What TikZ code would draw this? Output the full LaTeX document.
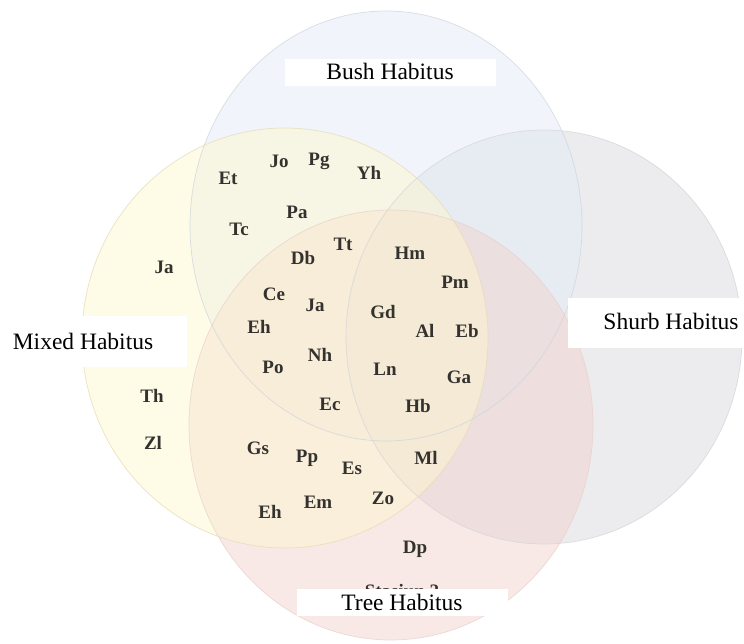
\documentclass[tikz,border=0pt]{standalone}
\usepackage{fontspec}
\setmainfont{Liberation Serif}
\definecolor{cBlue}{RGB}{226,236,248}
\definecolor{cYellow}{RGB}{254,247,205}
\definecolor{cGray}{RGB}{216,216,222}
\definecolor{cPink}{RGB}{242,210,205}
\definecolor{eBlue}{RGB}{205,212,222}
\definecolor{eYellow}{RGB}{230,218,182}
\definecolor{eGray}{RGB}{212,212,216}
\definecolor{ePink}{RGB}{232,208,203}
\definecolor{spcol}{RGB}{52,50,46}
\begin{document}
\begin{tikzpicture}[x=1pt,y=-1pt,
  sp/.style={font=\bfseries\fontsize{19}{19}\selectfont, text=spcol, inner sep=0pt, text height=12.6pt, text depth=0pt},
  ttl/.style={font=\rmfamily\fontsize{23.5}{24}\selectfont, text=black, inner sep=0pt, text height=15.6pt, text depth=0pt},
  blob/.style={fill opacity=0.48},
  rim/.style={line width=0.7pt, draw opacity=0.75}]
\useasboundingbox (0,0) rectangle (744,644);
\fill[white] (0,0) rectangle (744,644);
% circles
\fill[cGray, blob] (544,337) ellipse [x radius=198pt, y radius=207pt];
\fill[cBlue, blob] (386,226) ellipse [x radius=196pt, y radius=215pt];
\fill[cPink, blob] (391,425) ellipse [x radius=202pt, y radius=215pt];
\fill[cYellow, blob] (285,338) ellipse [x radius=203pt, y radius=210pt];
\draw[eGray, rim] (544,337) ellipse [x radius=198pt, y radius=207pt];
\draw[eBlue, rim] (386,226) ellipse [x radius=196pt, y radius=215pt];
\draw[ePink, rim] (391,425) ellipse [x radius=202pt, y radius=215pt];
\draw[eYellow, rim] (285,338) ellipse [x radius=203pt, y radius=210pt];
% species labels
\node[sp] (et) at (228,178) {Et};
\node[sp] (jo) at (279,161) {Jo};
\node[sp] (pg) at (319,159) {Pg};
\node[sp] (yh) at (369,173) {Yh};
\node[sp] (pa) at (297,212) {Pa};
\node[sp] (tc) at (239,229) {Tc};
\node[sp] (ja1) at (164,267) {Ja};
\node[sp] (tt) at (343,244) {Tt};
\node[sp] (db) at (303,258) {Db};
\node[sp] (hm) at (410,253) {Hm};
\node[sp] (pm) at (455,282) {Pm};
\node[sp] (ce) at (274,294) {Ce};
\node[sp] (ja2) at (315,305) {Ja};
\node[sp] (gd) at (383,312) {Gd};
\node[sp] (al) at (425,331) {Al};
\node[sp] (eb) at (467,331) {Eb};
\node[sp] (eh1) at (259,327) {Eh};
\node[sp] (nh) at (320,355) {Nh};
\node[sp] (po) at (273,367) {Po};
\node[sp] (ln) at (385,369) {Ln};
\node[sp] (ga) at (459,377) {Ga};
\node[sp] (th) at (152,396) {Th};
\node[sp] (ec) at (330,404) {Ec};
\node[sp] (hb) at (418,406) {Hb};
\node[sp] (zl) at (153,443) {Zl};
\node[sp] (gs) at (258,448) {Gs};
\node[sp] (pp) at (307,456) {Pp};
\node[sp] (es) at (352,468) {Es};
\node[sp] (ml) at (426,458) {Ml};
\node[sp] (zo) at (383,498) {Zo};
\node[sp] (em) at (318,502) {Em};
\node[sp] (eh2) at (270,512) {Eh};
\node[sp] (dp) at (415,547) {Dp};
\node[sp] (stasiun) at (402,591) {Stasiun 2};
% title boxes
\fill[white] (285,59) rectangle (496,86);
\node[ttl] (bush) at (390,72) {Bush Habitus};
\fill[white] (0,316) rectangle (187,367);
\node[ttl] (mixed) at (83,342) {Mixed Habitus};
\fill[white] (568,298) rectangle (744,348);
\node[ttl] (shurb) at (671,322) {Shurb Habitus};
\fill[white] (297,589) rectangle (508,616);
\node[ttl] (tree) at (402,603) {Tree Habitus};
\end{tikzpicture}
\end{document}
